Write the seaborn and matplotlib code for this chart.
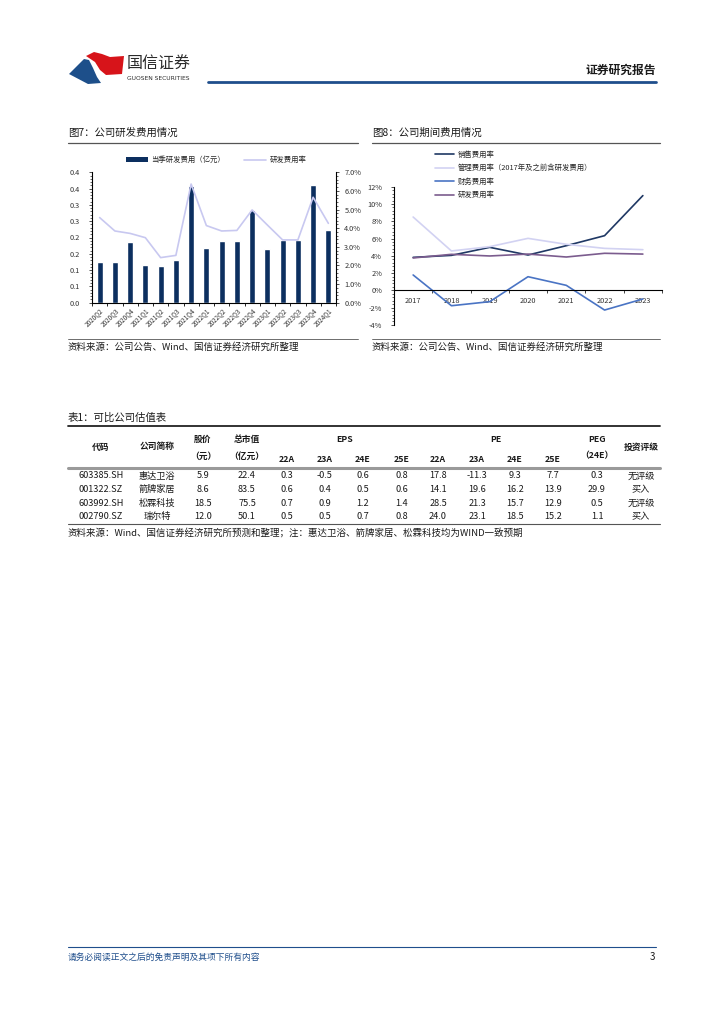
import numpy as np
import pandas as pd
import matplotlib
matplotlib.use('Agg')
import matplotlib.pyplot as plt
import seaborn as sns
from matplotlib.patches import Polygon, Patch
from matplotlib.lines import Line2D
from matplotlib.ticker import MultipleLocator, FixedLocator

# ---- 图7 data ----
quarters = ['2020Q2', '2020Q3', '2020Q4', '2021Q1', '2021Q2', '2021Q3', '2021Q4', '2022Q1',
            '2022Q2', '2022Q3', '2022Q4', '2023Q1', '2023Q2', '2023Q3', '2023Q4', '2024Q1']
rd_cost = [0.125, 0.125, 0.185, 0.116, 0.113, 0.131, 0.358, 0.167,
           0.189, 0.189, 0.284, 0.165, 0.192, 0.192, 0.361, 0.223]
rd_rate = [4.57, 3.85, 3.72, 3.49, 2.42, 2.54, 6.37, 4.14,
           3.85, 3.88, 4.98, 4.17, 3.37, 3.37, 5.66, 4.26]
left_ticklabels = ['0.0', '0.1', '0.1', '0.2', '0.2', '0.3', '0.3', '0.4', '0.4']

# ---- 图8 data ----
years = ['2017', '2018', '2019', '2020', '2021', '2022', '2023']
sales_rate = [3.82, 4.05, 4.98, 4.09, 5.17, 6.33, 10.97]
admin_rate = [8.49, 4.56, 5.06, 6.02, 5.33, 4.86, 4.71]
fin_rate = [1.78, -1.78, -1.31, 1.58, 0.58, -2.28, -1.00]
rd_rate_year = [3.75, 4.17, 3.98, 4.20, 3.86, 4.29, 4.20]
series_names = ['销售费用率', '管理费用率（2017年及之前含研发费用）', '财务费用率', '研发费用率']

# ---- 表1 data ----
codes = ['603385.SH', '001322.SZ', '603992.SH', '002790.SZ']
names = ['惠达卫浴', '箭牌家居', '松霖科技', '瑞尔特']
price = [5.9, 8.6, 18.5, 12.0]
mktcap = [22.4, 83.5, 75.5, 50.1]
eps_22a = [0.3, 0.6, 0.7, 0.5]
eps_23a = [-0.5, 0.4, 0.9, 0.5]
eps_24e = [0.6, 0.5, 1.2, 0.7]
eps_25e = [0.8, 0.6, 1.4, 0.8]
pe_22a = [17.8, 14.1, 28.5, 24.0]
pe_23a = [-11.3, 19.6, 21.3, 23.1]
pe_24e = [9.3, 16.2, 15.7, 18.5]
pe_25e = [7.7, 13.9, 12.9, 15.2]
peg = [0.3, 29.9, 0.5, 1.1]
rating = ['无评级', '买入', '无评级', '买入']

sns.set_theme(style='white')
plt.rcParams['font.family'] = ['Noto Sans CJK SC', 'DejaVu Sans']
plt.rcParams['axes.unicode_minus'] = False

W, H = 724, 1024
fig = plt.figure(figsize=(W / 100, H / 100), dpi=100)
fig.patch.set_facecolor('white')


def rect(x0, y0, x1, y1):
    return [x0 / W, 1 - y1 / H, (x1 - x0) / W, (y1 - y0) / H]


# page overlay in pixel coords
bg = fig.add_axes([0, 0, 1, 1], zorder=0)
bg.set_xlim(0, W)
bg.set_ylim(H, 0)
bg.axis('off')

# header logo + title
bg.add_patch(Polygon([(69, 74), (84, 59), (89, 60), (93, 68), (97, 77), (101, 83), (88, 84)],
                     closed=True, color='#1d4f8a', lw=0))
bg.add_patch(Polygon([(86, 56), (94, 52), (102, 54), (110, 57), (124, 56), (122, 74),
                      (106, 75), (100, 70), (95, 62)],
                     closed=True, color='#d7141a', lw=0))
bg.text(127, 64, '国信证券', fontsize=11.5, color='#2b2b2b', va='center', ha='left')
bg.text(127, 78, 'GUOSEN SECURITIES', fontsize=4.3, color='#2b2b2b', va='center', ha='left',
        family=['DejaVu Sans'])
bg.text(656, 70, '证券研究报告', fontsize=8.5, fontweight='bold', color='#1a1a1a', ha='right', va='center')
bg.plot([208, 656], [82, 82], color='#1f4e8c', lw=2)

# chart titles / sources
for x0, x1, title in [(68, 358, '图7：公司研发费用情况'), (372, 660, '图8：公司期间费用情况')]:
    bg.text(x0, 133, title, fontsize=7.5, ha='left', va='center', color='#1a1a1a')
    bg.plot([x0, x1], [143, 143], color='#555555', lw=0.9)
    bg.plot([x0, x1], [339, 339], color='#555555', lw=0.6)
    bg.text(x0, 347, '资料来源：公司公告、Wind、国信证券经济研究所整理', fontsize=6.8,
            ha='left', va='center', color='#1a1a1a')

tick_fs = 5.3

# ---- 图7 ----
ax1 = fig.add_axes(rect(92, 172.3, 336, 302.7), zorder=2)
df7 = pd.DataFrame({'季度': quarters, '当季研发费用（亿元）': rd_cost, '研发费用率': rd_rate})
sns.barplot(data=df7, x='季度', y='当季研发费用（亿元）', color='#0c2f5f', saturation=1,
            width=0.38, ax=ax1)
ax1.set_ylim(0, 0.4)
ax1.yaxis.set_major_locator(FixedLocator(np.arange(0, 0.401, 0.05)))
ax1.set_yticklabels(left_ticklabels)
ax1.yaxis.set_minor_locator(MultipleLocator(0.01))
ax1.set_xlabel('')
ax1.set_ylabel('')
ax1.set_xticks(range(len(quarters)))
ax1.set_xticklabels(quarters, rotation=45, ha='right', rotation_mode='anchor')
ax1.xaxis.set_minor_locator(FixedLocator(np.arange(-0.5, len(quarters), 1)))
ax1.tick_params(axis='x', which='major', length=0, labelsize=4.6, pad=3, colors='#333333')
ax1.tick_params(axis='x', which='minor', length=2.5, width=0.6, color='black', bottom=True)
ax1.tick_params(axis='y', which='major', length=2.5, width=0.6, labelsize=tick_fs, left=True,
                colors='#333333', pad=6)
ax1.tick_params(axis='y', which='minor', length=1.5, width=0.5, left=True)
ax1.set_xlim(-0.5, len(quarters) - 0.5)
for s in ['top', 'right']:
    ax1.spines[s].set_visible(False)
for s in ['left', 'bottom']:
    ax1.spines[s].set_color('black')
    ax1.spines[s].set_linewidth(0.8)

ax2 = ax1.twinx()
sns.lineplot(x=df7.index, y=df7['研发费用率'], color='#c8c8f0', lw=1.2, ax=ax2)
ax2.set_ylim(0, 7)
ax2.set_xlim(-0.5, len(quarters) - 0.5)
ax2.yaxis.set_major_locator(MultipleLocator(1))
ax2.yaxis.set_minor_locator(MultipleLocator(0.2))
ax2.set_yticklabels([f'{v:.1f}%' for v in ax2.get_yticks()])
ax2.set_ylabel('')
ax2.tick_params(axis='y', which='major', length=2.5, width=0.6, labelsize=tick_fs, right=True,
                colors='#333333')
ax2.tick_params(axis='y', which='minor', length=1.5, width=0.5, right=True)
for s in ['top', 'left', 'bottom']:
    ax2.spines[s].set_visible(False)
ax2.spines['right'].set_color('black')
ax2.spines['right'].set_linewidth(0.8)

h7 = [Patch(facecolor='#0c2f5f', edgecolor='none'), Line2D([], [], color='#c8c8f0', lw=1.2)]
fig.legend(h7, ['当季研发费用（亿元）', '研发费用率'], loc='center', ncol=2,
           bbox_to_anchor=(216 / W, 1 - 160 / H), frameon=False, fontsize=5.3,
           handlelength=3, handleheight=0.6, columnspacing=2.5, handletextpad=0.5)

# ---- 图8 ----
ax3 = fig.add_axes(rect(394, 186.7, 662, 324.9), zorder=2)
df8 = pd.DataFrame({'年份': years * 4,
                    '费用率': sales_rate + admin_rate + fin_rate + rd_rate_year,
                    '类别': sum([[n] * len(years) for n in series_names], [])})
pal = dict(zip(series_names, ['#1f3864', '#d2d2f2', '#4a74c4', '#7b5c8e']))
sns.lineplot(data=df8, x='年份', y='费用率', hue='类别', palette=pal,
             lw=1.2, ax=ax3, sort=False, legend=False)
ax3.set_ylim(-4, 12)
ax3.set_xlim(-0.5, len(years) - 0.5)
ax3.yaxis.set_major_locator(MultipleLocator(2))
ax3.yaxis.set_minor_locator(MultipleLocator(0.4))
ax3.set_yticklabels([f'{int(v)}%' for v in ax3.get_yticks()])
ax3.xaxis.set_minor_locator(FixedLocator(np.arange(-0.5, len(years), 1)))
ax3.set_xlabel('')
ax3.set_ylabel('')
ax3.spines['bottom'].set_position(('data', 0))
for s in ['top', 'right']:
    ax3.spines[s].set_visible(False)
for s in ['left', 'bottom']:
    ax3.spines[s].set_color('black')
    ax3.spines[s].set_linewidth(0.8)
ax3.tick_params(axis='x', which='major', length=0, labelsize=tick_fs, pad=5, colors='#333333')
ax3.tick_params(axis='x', which='minor', length=2.5, width=0.6, bottom=True)
ax3.tick_params(axis='y', which='major', length=2.5, width=0.6, labelsize=tick_fs, left=True,
                colors='#333333', pad=6)
ax3.tick_params(axis='y', which='minor', length=1.5, width=0.5, left=True)

h8 = [Line2D([], [], color=pal[n], lw=1.2) for n in series_names]
fig.legend(h8, series_names, loc='upper left', bbox_to_anchor=(428 / W, 1 - 144 / H),
           frameon=False, fontsize=5.3, handlelength=2.6, handletextpad=0.5, labelspacing=0.75)

# ---- 表1 ----
bg.text(68, 418, '表1：可比公司估值表', fontsize=7.5, ha='left', va='center', color='#1a1a1a')
bg.plot([68, 660], [426, 426], color='#222222', lw=1.3)
bg.plot([68, 660], [468, 468], color='#9a9a9a', lw=2.2)
bg.plot([68, 660], [523.5, 523.5], color='#555555', lw=0.8)

col_x = [101, 157, 203, 247, 287, 325, 363, 402, 438, 477, 515, 553, 597, 641]
hfs = 6.3
hk = dict(fontsize=hfs, fontweight='bold', ha='center', va='center', color='#1a1a1a')
bg.text(col_x[0], 447, '代码', **hk)
bg.text(col_x[1], 447, '公司简称', **hk)
bg.text(col_x[2], 439, '股价', **hk)
bg.text(col_x[2], 456, '（元）', **hk)
bg.text(col_x[3], 439, '总市值', **hk)
bg.text(col_x[3], 456, '（亿元）', **hk)
bg.text((col_x[4] + col_x[7]) / 2, 439, 'EPS', **hk)
bg.text((col_x[8] + col_x[11]) / 2, 439, 'PE', **hk)
bg.text(col_x[12], 439, 'PEG', **hk)
bg.text(col_x[12], 456, '（24E）', **hk)
bg.text(col_x[13], 447, '投资评级', **hk)
for i, lab in enumerate(['22A', '23A', '24E', '25E', '22A', '23A', '24E', '25E']):
    bg.text(col_x[4 + i], 459, lab, **hk)

row_y = [476, 489.5, 503, 516.5]
dk = dict(fontsize=6.6, ha='center', va='center', color='#1a1a1a')
num_cols = [price, mktcap, eps_22a, eps_23a, eps_24e, eps_25e, pe_22a, pe_23a, pe_24e, pe_25e, peg]
for r in range(len(codes)):
    bg.text(col_x[0], row_y[r], codes[r], **dk)
    bg.text(col_x[1], row_y[r], names[r], **dk)
    for c, vals in enumerate(num_cols):
        bg.text(col_x[2 + c], row_y[r], f'{vals[r]:.1f}', **dk)
    bg.text(col_x[13], row_y[r], rating[r], **dk)

bg.text(68, 534, '资料来源：Wind、国信证券经济研究所预测和整理；注：惠达卫浴、箭牌家居、松霖科技均为WIND一致预期',
        fontsize=6.8, ha='left', va='center', color='#1a1a1a')

# footer
bg.plot([68, 656], [947, 947], color='#1f4e8c', lw=0.8)
bg.text(68, 957, '请务必阅读正文之后的免责声明及其项下所有内容', fontsize=6.3, style='italic',
        color='#1f4e8c', ha='left', va='center')
bg.text(655, 957, '3', fontsize=7, color='#1a1a1a', ha='right', va='center')

fig.savefig('out.png', dpi=100, facecolor='white')
